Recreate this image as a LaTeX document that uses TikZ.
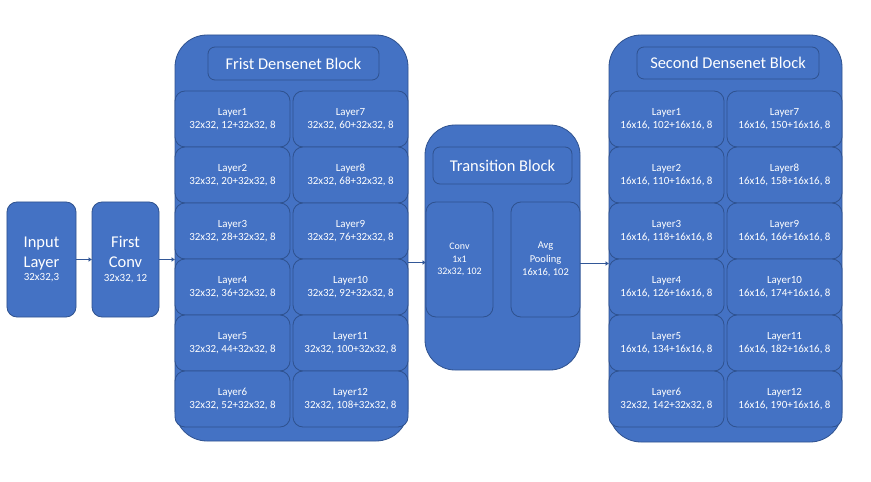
\documentclass[tikz,border=0pt]{standalone}
\usepackage{fontspec}
\setmainfont{Carlito}
\usetikzlibrary{arrows.meta}
\definecolor{fillblue}{HTML}{4472C4}
\definecolor{edgeblue}{HTML}{2F528F}
\tikzset{
  box/.style={draw=edgeblue, fill=fillblue, line width=0.8bp, rounded corners=10bp,
    inner sep=0pt, outer sep=0pt, text=white, align=center},
  bigblock/.style={box, rounded corners=32bp},
  layerbox/.style={box, minimum width=115bp, minimum height=56bp,
    font=\fontsize{11}{13.5}\selectfont},
  titlebox/.style={box, rounded corners=7bp, font=\fontsize{16.5}{20}\selectfont},
  arr/.style={draw=edgeblue!85!fillblue, line width=1.8bp, -{Latex[length=3.5bp,width=5bp]}}
}
\begin{document}
\begin{tikzpicture}[x=1bp,y=-1bp]
\useasboundingbox[fill=white] (0,0) rectangle (871,482);
% input and first conv
\node[box, minimum width=69bp, minimum height=115bp, font=\fontsize{16.5}{20}\selectfont] (inp) at (41.5,259.5)
  {Input\\Layer\\[-6bp]{\fontsize{11}{13}\selectfont 32x32,3}};
\node[box, minimum width=67bp, minimum height=115bp, font=\fontsize{16.5}{20}\selectfont] (fconv) at (125.5,259.5)
  {First\\Conv\\[-6bp]{\fontsize{11}{13}\selectfont 32x32, 12}};
% first densenet block
\node[bigblock, minimum width=233bp, minimum height=406bp] (b1) at (291.5,238) {};
\node[titlebox, minimum width=171bp, minimum height=33bp] (t1) at (293.5,63.5) {Frist Densenet Block};
\node[layerbox] (a1) at (232.5,119) {Layer1\\32x32, 12+32x32, 8};
\node[layerbox] (a2) at (232.5,175) {Layer2\\32x32, 20+32x32, 8};
\node[layerbox] (a3) at (232.5,231) {Layer3\\32x32, 28+32x32, 8};
\node[layerbox] (a4) at (232.5,287) {Layer4\\32x32, 36+32x32, 8};
\node[layerbox] (a5) at (232.5,343) {Layer5\\32x32, 44+32x32, 8};
\node[layerbox] (a6) at (232.5,399) {Layer6\\32x32, 52+32x32, 8};
\node[layerbox] (a7) at (350.5,119) {Layer7\\32x32, 60+32x32, 8};
\node[layerbox] (a8) at (350.5,175) {Layer8\\32x32, 68+32x32, 8};
\node[layerbox] (a9) at (350.5,231) {Layer9\\32x32, 76+32x32, 8};
\node[layerbox] (a10) at (350.5,287) {Layer10\\32x32, 92+32x32, 8};
\node[layerbox] (a11) at (350.5,343) {Layer11\\32x32, 100+32x32, 8};
\node[layerbox] (a12) at (350.5,399) {Layer12\\32x32, 108+32x32, 8};
% transition block
\node[bigblock, rounded corners=30bp, minimum width=155bp, minimum height=245bp] (tb) at (502.5,247.5) {};
\node[titlebox, minimum width=139bp, minimum height=37bp] (tt) at (502.5,165.5) {Transition Block};
\node[box, minimum width=67bp, minimum height=115bp, font=\fontsize{10}{12.5}\selectfont] (conv) at (459.5,259.5)
  {Conv\\1x1\\32x32, 102};
\node[box, minimum width=69bp, minimum height=115bp, font=\fontsize{10.5}{13.5}\selectfont] (pool) at (545.5,259.5)
  {Avg\\Pooling\\16x16, 102};
% second densenet block
\node[bigblock, minimum width=233bp, minimum height=407bp] (b2) at (725.5,238.5) {};
\node[titlebox, minimum width=182bp, minimum height=32bp] (t2) at (728,63) {Second Densenet Block};
\node[layerbox] (c1) at (666.5,119) {Layer1\\16x16, 102+16x16, 8};
\node[layerbox] (c2) at (666.5,175) {Layer2\\16x16, 110+16x16, 8};
\node[layerbox] (c3) at (666.5,231) {Layer3\\16x16, 118+16x16, 8};
\node[layerbox] (c4) at (666.5,287) {Layer4\\16x16, 126+16x16, 8};
\node[layerbox] (c5) at (666.5,343) {Layer5\\16x16, 134+16x16, 8};
\node[layerbox] (c6) at (666.5,399) {Layer6\\32x32, 142+32x32, 8};
\node[layerbox] (c7) at (784.5,119) {Layer7\\16x16, 150+16x16, 8};
\node[layerbox] (c8) at (784.5,175) {Layer8\\16x16, 158+16x16, 8};
\node[layerbox] (c9) at (784.5,231) {Layer9\\16x16, 166+16x16, 8};
\node[layerbox] (c10) at (784.5,287) {Layer10\\16x16, 174+16x16, 8};
\node[layerbox] (c11) at (784.5,343) {Layer11\\16x16, 182+16x16, 8};
\node[layerbox] (c12) at (784.5,399) {Layer12\\16x16, 190+16x16, 8};
% connectors
\draw[arr] (inp.east) -- (fconv.west);
\draw[arr] (fconv.east) -- (fconv.east -| b1.west);
\draw[arr] ([yshift=-3bp]conv.west -| b1.east) -- ([yshift=-3bp]conv.west);
\draw[arr] ([yshift=-4bp]pool.east) -- ([yshift=-4bp]pool.east -| b2.west);
\end{tikzpicture}
\end{document}
